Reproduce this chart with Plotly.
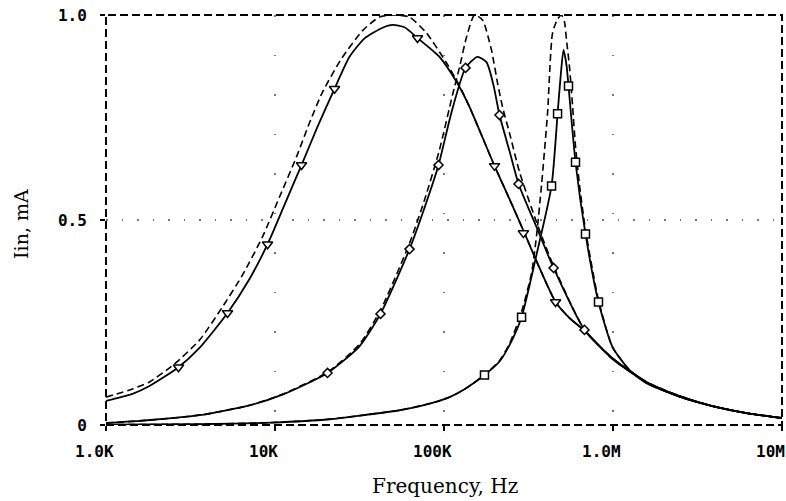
import math
import plotly.graph_objects as go

# ---- Curve A (broad resonance): solid with triangles, dashed ideal ----
fa = [1000, 1435, 1808, 2685, 3574, 5236, 7063, 9036, 11380, 14350, 17830, 22500, 27600, 33900,
      43300, 49600, 58400, 69700, 94000, 118600, 141500, 199000, 244200, 299500, 367400, 457200,
      552900, 678000, 993400, 1579000, 2474000, 3879000, 6161000, 10000000]
ia = [0.059, 0.076, 0.095, 0.141, 0.188, 0.273, 0.356, 0.441, 0.537, 0.634, 0.727, 0.820, 0.898, 0.943,
      0.969, 0.976, 0.970, 0.944, 0.898, 0.837, 0.776, 0.632, 0.551, 0.468, 0.383, 0.300,
      0.261, 0.230, 0.161, 0.104, 0.069, 0.046, 0.029, 0.017]

fad = [1000, 1435, 1808, 2543, 3574, 4889, 6427, 8433, 10630, 13400, 16000, 19100, 24700, 33000,
       41500, 50900, 62500, 78800, 103500, 123600, 141500, 199000, 244200, 299500, 367400, 457200,
       552900, 678000, 993400, 1579000, 2474000, 3879000, 6161000, 10000000]
iad = [0.068, 0.088, 0.105, 0.149, 0.207, 0.288, 0.366, 0.459, 0.556, 0.654, 0.737, 0.812, 0.893, 0.962,
       0.995, 1.0, 0.995, 0.956, 0.883, 0.827, 0.776, 0.632, 0.551, 0.468, 0.383, 0.300,
       0.261, 0.230, 0.161, 0.104, 0.069, 0.046, 0.029, 0.017]

# ---- Curve B (medium Q): solid with diamonds, dashed ideal ----
fb = [1000, 1578, 3574, 7063, 11070, 20450, 31600, 42100, 62500, 76700, 92800, 110800, 134100, 157800,
      178400, 196200, 213000, 244200, 276200, 352500, 444900, 678000, 993400, 1579000, 2474000,
      3879000, 6161000, 10000000]
ib = [0.005, 0.010, 0.024, 0.048, 0.074, 0.127, 0.192, 0.271, 0.429, 0.530, 0.634, 0.763, 0.871, 0.898,
      0.885, 0.829, 0.756, 0.668, 0.588, 0.483, 0.383, 0.232, 0.163, 0.105, 0.071,
      0.046, 0.029, 0.017]

fbd = [1000, 1578, 3574, 7063, 11070, 20450, 31600, 42100, 62500, 76700, 94000, 112300, 123600, 135900,
       151500, 168900, 190800, 207400, 221900, 244200, 279900, 352500, 444900, 678000, 993400,
       1579000, 2474000, 3879000, 6161000, 10000000]
ibd = [0.005, 0.010, 0.024, 0.048, 0.075, 0.129, 0.197, 0.280, 0.443, 0.549, 0.671, 0.805, 0.873, 0.946,
       1.0, 0.988, 0.915, 0.834, 0.776, 0.712, 0.617, 0.495, 0.388, 0.232, 0.163,
       0.105, 0.071, 0.046, 0.029, 0.017]

# ---- Curve C (high Q): solid with squares, dashed ideal ----
fc = [1000, 3574, 9660, 21000, 34800, 54500, 85400, 107900, 133000, 173600, 213000, 244200, 287700,
      352500, 432900, 469900, 488900, 509400, 530700, 545400, 600000, 687300, 820600, 993400,
      1253000, 1579000, 2474000, 3879000, 6161000, 10000000]
ic = [0.001, 0.002, 0.006, 0.014, 0.025, 0.036, 0.054, 0.068, 0.088, 0.122, 0.155, 0.195, 0.263,
      0.415, 0.583, 0.759, 0.846, 0.915, 0.878, 0.827, 0.641, 0.466, 0.300, 0.190,
      0.134, 0.102, 0.069, 0.046, 0.029, 0.017]

fcd = [1000, 3574, 9660, 21000, 34800, 54500, 85400, 107900, 133000, 173600, 213000, 244200, 287700,
       329400, 352500, 377600, 409700, 438800, 469900, 495600, 516400, 530700, 552900, 576000, 600000,
       633700, 687300, 820600, 993400, 1253000, 1579000, 2474000, 3879000, 6161000, 10000000]
icd = [0.001, 0.002, 0.006, 0.014, 0.025, 0.036, 0.054, 0.068, 0.088, 0.122, 0.157, 0.198, 0.276,
       0.370, 0.460, 0.585, 0.759, 0.956, 0.990, 1.0, 0.983, 0.939, 0.873, 0.780, 0.680,
       0.585, 0.476, 0.305, 0.190, 0.134, 0.102, 0.069, 0.046, 0.029, 0.017]

# ---- Marker positions on the solid curves ----
ma_f = [2685, 5236, 9036, 14350, 22500, 69700, 199000, 295000, 457200]
ma_i = [0.141, 0.273, 0.441, 0.634, 0.820, 0.944, 0.632, 0.468, 0.300]
mb_f = [20450, 42100, 62500, 92800, 134100, 213000, 276200, 444900, 678000]
mb_i = [0.127, 0.271, 0.429, 0.634, 0.871, 0.756, 0.588, 0.383, 0.232]
mc_f = [173600, 287700, 432900, 469900, 545400, 600000, 687300, 820600]
mc_i = [0.122, 0.263, 0.583, 0.759, 0.827, 0.641, 0.466, 0.300]

x_tickvals = [1e3, 1e4, 1e5, 1e6, 1e7]
x_ticktext = ["1.0K", "10K", "100K", "1.0M", "10M"]
y_tickvals = [0, 0.5, 1.0]
y_ticktext = ["0", "0.5", "1.0"]

fig = go.Figure()

dash_style = dict(color="black", width=1.6, dash="7px,4px", shape="spline", smoothing=0.6)
solid_style = dict(color="black", width=1.8, shape="spline", smoothing=0.6)

for fx, iy in [(fad, iad), (fbd, ibd), (fcd, icd)]:
    fig.add_trace(go.Scatter(x=fx, y=iy, mode="lines", line=dash_style, hoverinfo="skip"))
for fx, iy in [(fa, ia), (fb, ib), (fc, ic)]:
    fig.add_trace(go.Scatter(x=fx, y=iy, mode="lines", line=solid_style, hoverinfo="skip"))

for fx, iy, sym, sz in [(ma_f, ma_i, "triangle-down", 9), (mb_f, mb_i, "diamond", 7),
                        (mc_f, mc_i, "square", 8)]:
    fig.add_trace(go.Scatter(x=fx, y=iy, mode="markers",
                             marker=dict(symbol=sym, size=sz, color="white",
                                         line=dict(color="black", width=1.5)),
                             hoverinfo="skip"))

tickfont = dict(family="DejaVu Sans Mono", size=16, color="black", weight="bold")

# x tick labels drawn as annotations (the original places them a little left of each tick)
x_label_annots = [
    dict(text=t, xref="x", yref="paper", x=math.log10(v), y=0, xanchor="center",
         yanchor="middle", xshift=-12, yshift=-26, showarrow=False, font=tickfont)
    for v, t in zip(x_tickvals, x_ticktext)
]

fig.update_layout(
    width=786, height=501,
    margin=dict(l=106, r=4, t=15, b=76),
    paper_bgcolor="white", plot_bgcolor="white",
    showlegend=False,
    xaxis=dict(type="log", range=[3, 7], tickvals=x_tickvals, ticktext=[""] * len(x_tickvals),
               showline=False, zeroline=False, ticks="outside", ticklen=5, tickwidth=2,
               tickcolor="black", tickfont=tickfont,
               showgrid=True, gridcolor="#777", gridwidth=1.5, griddash="1.5px,38px"),
    yaxis=dict(range=[0, 1], tickvals=y_tickvals, ticktext=y_ticktext,
               showline=False, zeroline=False, ticks="outside", ticklen=5, tickwidth=2,
               tickcolor="black", tickfont=tickfont, ticklabelstandoff=10,
               showgrid=True, gridcolor="#777", gridwidth=1.5, griddash="1.5px,14px"),
    shapes=[dict(type="rect", xref="paper", yref="paper", x0=0, x1=1, y0=0, y1=1,
                 line=dict(color="black", width=2, dash="8px,4px"), layer="above")],
    annotations=x_label_annots + [
        dict(text="Frequency, Hz", xref="paper", yref="paper", x=0.502, y=-0.150,
             xanchor="center", yanchor="middle", showarrow=False,
             font=dict(family="DejaVu Serif", size=20, color="black")),
        dict(text="Iin, mA", xref="paper", yref="paper", x=-0.126, y=0.49,
             xanchor="center", yanchor="middle", showarrow=False, textangle=-90,
             font=dict(family="DejaVu Serif", size=19, color="black")),
    ],
)

fig.write_html("out.html", config={"displayModeBar": False},
               post_script="document.body.style.margin='0';document.body.style.overflow='hidden';")
